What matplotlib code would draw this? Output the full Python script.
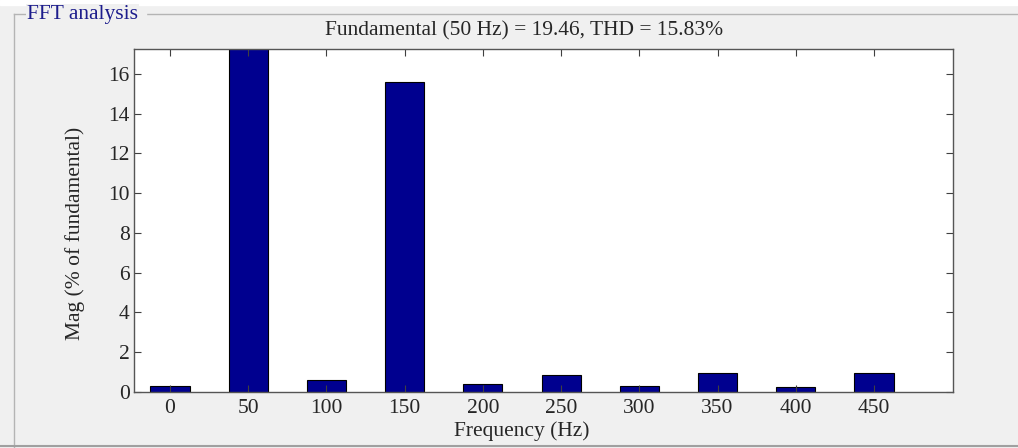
import matplotlib
matplotlib.use("Agg")
from matplotlib import pyplot as plt
from matplotlib.lines import Line2D

# harmonic magnitudes (% of fundamental)
freqs = [0, 50, 100, 150, 200, 250, 300, 350, 400, 450]
mags = [0.30, 100.0, 0.58, 15.6, 0.42, 0.87, 0.32, 0.97, 0.25, 0.97]
xtick_vals = [0, 50, 100, 150, 200, 250, 300, 350, 400, 450]
ytick_vals = [0, 2, 4, 6, 8, 10, 12, 14, 16]
title = "Fundamental (50 Hz) = 19.46, THD = 15.83%"

plt.rcParams["font.family"] = ["Liberation Serif", "DejaVu Serif"]
W, H = 1018, 448
FS = 15.5
fig = plt.figure(figsize=(W / 100, H / 100), dpi=100, facecolor="#f0f0f0")

# panel frame (group box)
fig.patches.append(plt.Rectangle((0, 1 - 5 / H), 1, 5 / H, transform=fig.transFigure,
                                 color="white", zorder=0))
fig.lines.append(Line2D([14 / W, 1], [1 - 14 / H, 1 - 14 / H], transform=fig.transFigure,
                        color="#b4b4b4", lw=1))
fig.lines.append(Line2D([14 / W, 14 / W], [1 - 14 / H, 0], transform=fig.transFigure,
                        color="#b4b4b4", lw=1))
fig.lines.append(Line2D([0, 1], [1 - 446 / H, 1 - 446 / H], transform=fig.transFigure,
                        color="#a0a0a0", lw=1.5))
fig.text(27 / W, 1 - 15 / H, "FFT analysis", color="#1c1c8c", fontsize=FS,
         ha="left", va="center", bbox=dict(facecolor="#f0f0f0", edgecolor="none", pad=1))
# hide the frame line just right of the label
fig.patches.append(plt.Rectangle((137 / W, 1 - 18 / H), 9 / W, 8 / H, transform=fig.transFigure,
                                 color="#f0f0f0", zorder=3))

ax = fig.add_axes([134 / W, 1 - 392 / H, (953 - 134) / W, (392 - 49) / H])
ax.bar(freqs, mags, width=25, color="#00008f", edgecolor="black", linewidth=0.8)
ax.set_xlim(-23, 500.5)
ax.set_ylim(0, 17.25)
ax.set_xticks(xtick_vals)
ax.set_yticks(ytick_vals)
ax.tick_params(direction="in", length=5, color="#404040", labelsize=FS,
               top=True, right=True, labelcolor="#262626", pad=3)
ax.tick_params(axis="x", pad=5)
for s in ax.spines.values():
    s.set_color("#555555")
    s.set_linewidth(1)

fig.text(524 / W, 1 - 31 / H, title, ha="center", va="center", fontsize=FS, color="#262626")
fig.text(522 / W, 1 - 431 / H, "Frequency (Hz)", ha="center", va="center", fontsize=FS,
         color="#262626")
fig.text(75 / W, 1 - 233 / H, "Mag (% of fundamental)", ha="center", va="center",
         rotation=90, fontsize=FS, color="#262626")

fig.savefig("out.png", dpi=100, facecolor=fig.get_facecolor())
